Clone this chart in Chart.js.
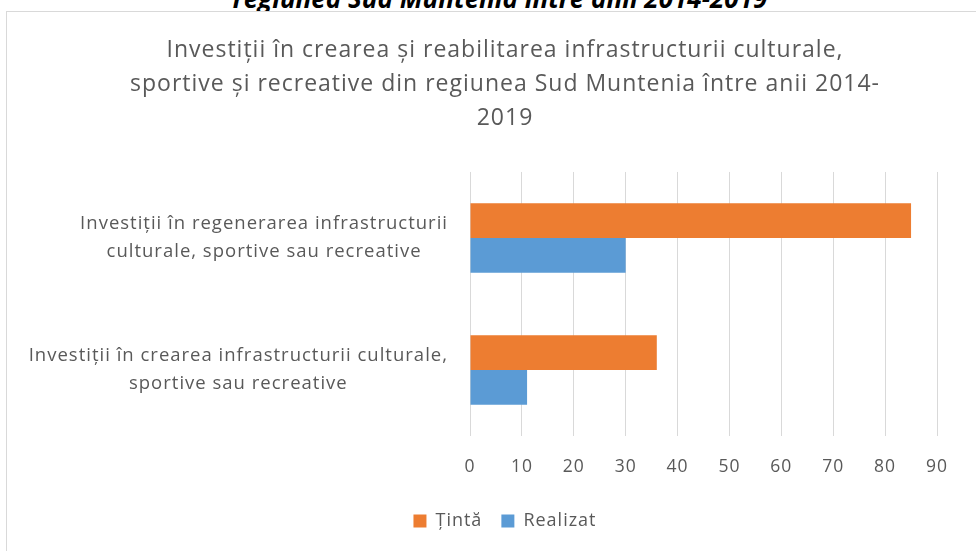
<!DOCTYPE html>
<html>
<head>
<meta charset="utf-8">
<script src="https://cdn.jsdelivr.net/npm/chart.js@4.4.1/dist/chart.umd.min.js"></script>
<style>
  html, body { margin: 0; padding: 0; width: 976px; height: 551px; overflow: hidden; background: #fff; }
  #top { position: absolute; left: 0; width: 1000px; top: -20px; text-align: center;
         font: italic bold 26px 'Open Sans', sans-serif; color: #000; white-space: nowrap; }
  #box { position: absolute; left: 6px; top: 11px; width: 998px; height: 560px;
         border: 1px solid #d9d9d9; box-sizing: border-box; background: #fff; }
  #c { display: block; }
</style>
</head>
<body>
<div id="top">regiunea Sud Muntenia între anii 2014-2019</div>
<div id="box"><canvas id="c" width="996" height="558"></canvas></div>
<script>
const categories = [
  ["Investiții în regenerarea infrastructurii", "culturale, sportive sau recreative"],
  ["Investiții în crearea infrastructurii culturale,", "sportive sau recreative"]
];
const seriesNames = ["Țintă", "Realizat"];
const tinta = [85, 36];
const realizat = [30, 11];
const xTicks = [0, 10, 20, 30, 40, 50, 60, 70, 80, 90];
const titleLines = [
  "Investiții în crearea și reabilitarea infrastructurii culturale,",
  "sportive și recreative din regiunea Sud Muntenia între anii 2014-",
  "2019"
];

const FONT = "'Open Sans', sans-serif";
const GREY = "#595959";

const spacingPlugin = {
  id: "spacing",
  beforeUpdate(chart) { chart.ctx.letterSpacing = "1px"; },
  beforeDraw(chart) { chart.ctx.letterSpacing = "1px"; }
};

const catLabelPlugin = {
  id: "catLabels",
  afterDraw(chart) {
    const ctx = chart.ctx;
    const y = chart.scales.y;
    const right = chart.chartArea.left - 22;
    ctx.save();
    ctx.letterSpacing = "1px";
    ctx.font = "18.5px " + FONT;
    ctx.fillStyle = GREY;
    ctx.textAlign = "center";
    ctx.textBaseline = "middle";
    const lh = 28;
    categories.forEach((lines, i) => {
      const cy = y.getPixelForValue(i);
      const w = Math.max(...lines.map(l => ctx.measureText(l).width));
      const cx = right - w / 2;
      const y0 = cy - (lines.length - 1) * lh / 2;
      lines.forEach((l, j) => ctx.fillText(l, cx, y0 + j * lh));
    });
    ctx.restore();
  }
};

new Chart(document.getElementById("c"), {
  type: "bar",
  data: {
    labels: categories.map(c => c.join(" ")),
    datasets: [
      { label: seriesNames[0], data: tinta, backgroundColor: "#ED7D31", borderWidth: 0 },
      { label: seriesNames[1], data: realizat, backgroundColor: "#5B9BD5", borderWidth: 0 }
    ]
  },
  options: {
    indexAxis: "y",
    responsive: false,
    animation: false,
    events: [],
    layout: { padding: { top: 0, bottom: 30, left: 0, right: 0 } },
    datasets: { bar: { categoryPercentage: 0.525, barPercentage: 1.0 } },
    scales: {
      x: {
        type: "linear",
        min: 0, max: 90,
        afterBuildTicks(s) { s.ticks = xTicks.map(v => ({ value: v })); },
        grid: { color: "#d9d9d9", lineWidth: 1, drawTicks: false },
        border: { display: false },
        ticks: { color: GREY, font: { family: FONT, size: 17.5 }, padding: 21 },
        afterFit(s) { s.height = 57; }
      },
      y: {
        type: "category",
        position: "left",
        grid: { display: false },
        border: { display: false },
        ticks: { display: false },
        afterFit(s) { s.width = 463; }
      },
      y2: {
        type: "category",
        position: "right",
        grid: { display: false },
        border: { display: false },
        ticks: { display: false },
        afterFit(s) { s.width = 66; }
      }
    },
    plugins: {
      title: {
        display: true,
        text: titleLines,
        color: GREY,
        font: { family: FONT, size: 23, weight: "normal", lineHeight: 1.478 },
        padding: { top: 21, bottom: 37 }
      },
      legend: {
        position: "bottom",
        labels: {
          color: GREY,
          font: { family: FONT, size: 18 },
          boxWidth: 13, boxHeight: 13,
          padding: 19
        }
      },
      tooltip: { enabled: false }
    }
  },
  plugins: [spacingPlugin, catLabelPlugin]
});
</script>
</body>
</html>
